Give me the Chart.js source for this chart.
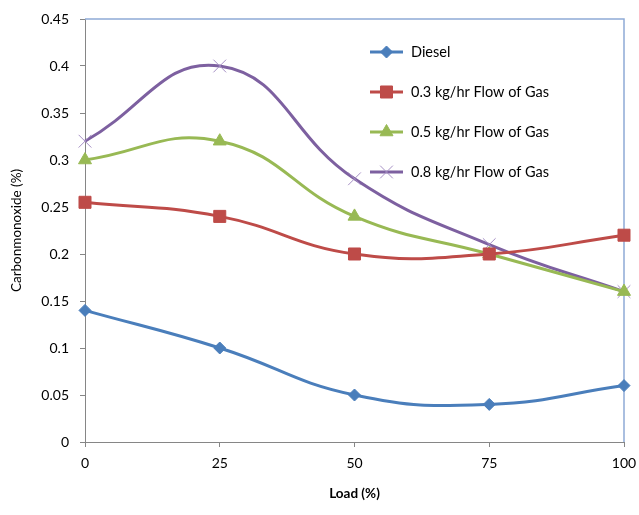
<!DOCTYPE html>
<html>
<head>
<meta charset="utf-8">
<script src="https://cdn.jsdelivr.net/npm/chart.js@4"></script>
<style>
  body { margin: 0; background: #fff; }
  #wrap { width: 639px; height: 515px; }
</style>
</head>
<body>
<div id="wrap"><canvas id="coChart" width="639" height="515"></canvas></div>
<script>
// data
const loads = ['0', '25', '50', '75', '100'];
const diesel = [0.14, 0.10, 0.05, 0.04, 0.06];
const gas03 = [0.255, 0.24, 0.20, 0.20, 0.22];
const gas05 = [0.30, 0.32, 0.24, 0.20, 0.16];
const gas08 = [0.32, 0.40, 0.28, 0.21, 0.16];
const seriesNames = ['Diesel', '0.3 kg/hr Flow of Gas', '0.5 kg/hr Flow of Gas', '0.8 kg/hr Flow of Gas'];
const yTicks = [0, 0.05, 0.1, 0.15, 0.2, 0.25, 0.3, 0.35, 0.4, 0.45];

const FONT = 'Lato, "Open Sans", sans-serif';

function makeSet(label, data, color, style, radius, markColor) {
    return {
        label: label,
        data: data,
        borderColor: color,
        backgroundColor: color,
        borderWidth: 3,
        pointStyle: style,
        pointRadius: radius,
        pointHoverRadius: radius,
        pointBorderWidth: 1,
        pointBorderColor: markColor || color,
        pointBackgroundColor: markColor || color,
        tension: 0.45,
        clip: false
    };
}

// legend drawn inside plot area, Excel style
const insideLegend = {
    id: 'insideLegend',
    afterDraw(chart) {
        const ctx = chart.ctx;
        const x0 = 370, x1 = 403, tx = 411;
        const y0 = 52, gap = 40;
        chart.data.datasets.forEach(function(ds, i) {
            const y = y0 + i * gap;
            ctx.save();
            ctx.strokeStyle = ds.borderColor;
            ctx.lineWidth = 3;
            ctx.beginPath();
            ctx.moveTo(x0, y);
            ctx.lineTo(x1, y);
            ctx.stroke();
            ctx.lineWidth = 1;
            ctx.strokeStyle = ds.pointBorderColor;
            ctx.fillStyle = ds.pointBackgroundColor;
            Chart.helpers.drawPoint(ctx, {
                pointStyle: ds.pointStyle,
                radius: ds.pointRadius,
                borderWidth: 1,
                rotation: 0
            }, (x0 + x1) / 2, y);
            ctx.fillStyle = '#000';
            ctx.font = '14.5px ' + FONT;
            ctx.textBaseline = 'middle';
            ctx.fillText(ds.label, tx, y);
            ctx.restore();
        });
    }
};

// light blue border on top and right of the plot
const plotBorder = {
    id: 'plotBorder',
    beforeDatasetsDraw(chart) {
        const a = chart.chartArea, ctx = chart.ctx;
        ctx.save();
        ctx.strokeStyle = '#8eaad6';
        ctx.lineWidth = 1.5;
        ctx.beginPath();
        ctx.moveTo(a.left, a.top);
        ctx.lineTo(a.right, a.top);
        ctx.lineTo(a.right, a.bottom);
        ctx.stroke();
        ctx.restore();
    }
};

new Chart(document.getElementById('coChart'), {
    type: 'line',
    data: {
        labels: loads,
        datasets: [
            makeSet(seriesNames[0], diesel, '#4a7ebb', 'rectRot', 6),
            makeSet(seriesNames[1], gas03, '#be4b48', 'rect', 8.5),
            makeSet(seriesNames[2], gas05, '#98b954', 'triangle', 7.5),
            makeSet(seriesNames[3], gas08, '#7d60a0', 'crossRot', 9, '#a58fc4')
        ]
    },
    options: {
        responsive: false,
        animation: false,
        layout: { padding: { top: 19, right: 15, left: 0, bottom: 0 } },
        plugins: {
            legend: { display: false },
            tooltip: { enabled: false }
        },
        scales: {
            x: {
                type: 'category',
                offset: false,
                grid: { drawOnChartArea: false, drawTicks: true, tickLength: 5, color: '#868686' },
                border: { color: '#868686', width: 1 },
                ticks: { color: '#000', font: { family: FONT, size: 14 }, padding: 8, maxRotation: 0 },
                title: { display: true, text: 'Load (%)', color: '#000', font: { family: FONT, size: 13.5, weight: 'bold' }, padding: { top: 0, bottom: 13 } },
                afterFit(scale) {
                    scale.height = 73;
                    scale.paddingLeft = 0;
                    scale.paddingRight = 0;
                }
            },
            y: {
                min: 0,
                max: 0.45,
                afterBuildTicks(scale) { scale.ticks = yTicks.map(function(v) { return { value: v }; }); },
                grid: { drawOnChartArea: false, drawTicks: true, tickLength: 5, color: '#868686' },
                border: { color: '#868686', width: 1 },
                ticks: {
                    color: '#000',
                    font: { family: FONT, size: 14 },
                    padding: 11,
                    callback: function(v) { return String(Math.round(v * 100) / 100); }
                },
                title: { display: true, text: 'Carbonmonoxide (%)', color: '#000', font: { family: FONT, size: 13.5 }, padding: { top: 9, bottom: 6 } },
                afterFit(scale) {
                    scale.width = 85;
                    scale.paddingTop = 0;
                    scale.paddingBottom = 0;
                }
            }
        }
    },
    plugins: [insideLegend, plotBorder]
});
</script>
</body>
</html>
